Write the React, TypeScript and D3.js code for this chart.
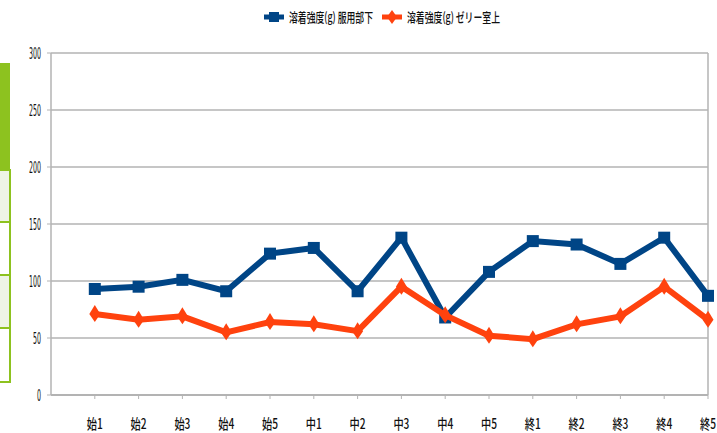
import React from 'react';
import * as d3 from 'd3';

// chart data
const categories = ['始1', '始2', '始3', '始4', '始5', '中1', '中2', '中3', '中4', '中5', '終1', '終2', '終3', '終4', '終5'];
const seriesNames = ['溶着強度(g) 服用部下', '溶着強度(g) ゼリー室上'];
const underValues = [93, 95, 101, 91, 124, 129, 91, 138, 68, 108, 135, 132, 115, 138, 87];
const jellyValues = [71, 66, 69, 55, 64, 62, 56, 95, 70, 52, 49, 62, 69, 95, 66];
const yTicks = [0, 50, 100, 150, 200, 250, 300];

const BLUE = '#004586';
const ORANGE = '#ff420e';
const GRID = '#b3b3b3';
const GREEN = '#8dc21f';

const W = 717;
const H = 433;
const plot = { left: 51, right: 708, top: 53, bottom: 395 };

const step = (plot.right - plot.left) / categories.length;
const x = d3.scalePoint<string>().domain(categories).range([plot.left + step, plot.right]);
const y = d3.scaleLinear().domain([0, 300]).range([plot.bottom, plot.top]);

const line = d3.line<number>()
  .x((_, i) => x(categories[i]) as number)
  .y(d => y(d));

const diamond = (cx: number, cy: number) =>
  `M${cx},${cy - 9} L${cx + 5.5},${cy} L${cx},${cy + 8} L${cx - 5.5},${cy} Z`;

const numFont = '"Liberation Sans Narrow", "DejaVu Sans Condensed", sans-serif';
const cjkFont = '"Noto Sans CJK JP", sans-serif';

const App = () => {
  return (
    <svg width={W} height={H} style={{ position: 'absolute', left: 0, top: 0, background: '#fff' }}>
      {/* fragment of a table cut off on the left */}
      <g>
        <rect x={-2} y={63} width={12} height={107} fill={GREEN} />
        <rect x={-2} y={170} width={12} height={52} fill="#eef4e6" stroke={GREEN} strokeWidth={2} />
        <rect x={-2} y={222} width={12} height={53} fill="#fff" stroke={GREEN} strokeWidth={2} />
        <rect x={-2} y={275} width={12} height={53} fill="#eef4e6" stroke={GREEN} strokeWidth={2} />
        <rect x={-2} y={328} width={12} height={54} fill="#fff" stroke={GREEN} strokeWidth={2} />
      </g>

      {/* grid */}
      {yTicks.map(t => (
        <g key={t}>
          <line x1={plot.left} x2={plot.right} y1={y(t)} y2={y(t)} stroke={GRID} strokeWidth={t === 0 ? 2 : 1.5} />
          <line x1={plot.left - 4} x2={plot.left} y1={y(t)} y2={y(t)} stroke={GRID} strokeWidth={1} />
          <text x={41} y={y(t)} dy="0.38em" textAnchor="end" fontFamily={numFont} fontSize={15}
            textLength={String(t).length * 4} lengthAdjust="spacingAndGlyphs" fill="#111">{t}</text>
        </g>
      ))}
      <line x1={plot.left} x2={plot.left} y1={plot.top} y2={plot.bottom} stroke={GRID} strokeWidth={1.5} />
      <line x1={plot.right} x2={plot.right} y1={plot.top} y2={plot.bottom} stroke={GRID} strokeWidth={1.5} />

      {/* x ticks and labels */}
      {categories.map(c => (
        <g key={c}>
          <line x1={x(c)} x2={x(c)} y1={plot.bottom} y2={plot.bottom + 4} stroke={GRID} strokeWidth={1} />
          <text x={x(c)} y={429} textAnchor="middle" fontFamily={cjkFont} fontSize={14} fontWeight={500}
            textLength={16} lengthAdjust="spacingAndGlyphs" fill="#111">{c}</text>
        </g>
      ))}

      {/* series */}
      <path d={line(underValues) ?? ''} fill="none" stroke={BLUE} strokeWidth={6} strokeLinejoin="miter" />
      {underValues.map((v, i) => (
        <rect key={i} x={(x(categories[i]) as number) - 6} y={y(v) - 6} width={12} height={12} fill={BLUE} />
      ))}
      <path d={line(jellyValues) ?? ''} fill="none" stroke={ORANGE} strokeWidth={6} strokeLinejoin="miter" />
      {jellyValues.map((v, i) => (
        <path key={i} d={diamond(x(categories[i]) as number, y(v))} fill={ORANGE} />
      ))}

      {/* legend */}
      <g>
        <line x1={264} x2={284} y1={17} y2={17} stroke={BLUE} strokeWidth={5} />
        <rect x={269} y={12} width={10} height={10} fill={BLUE} />
        <text x={289} y={17} dy="0.36em" fontFamily={cjkFont} fontSize={13} fontWeight={500}
          textLength={84} lengthAdjust="spacingAndGlyphs" fill="#111">{seriesNames[0]}</text>
        <line x1={382} x2={402} y1={17} y2={17} stroke={ORANGE} strokeWidth={5} />
        <path d={`M392,10 L397,17 L392,24 L387,17 Z`} fill={ORANGE} />
        <text x={407} y={17} dy="0.36em" fontFamily={cjkFont} fontSize={13} fontWeight={500}
          textLength={93} lengthAdjust="spacingAndGlyphs" fill="#111">{seriesNames[1]}</text>
      </g>
    </svg>
  );
};

export default App;
